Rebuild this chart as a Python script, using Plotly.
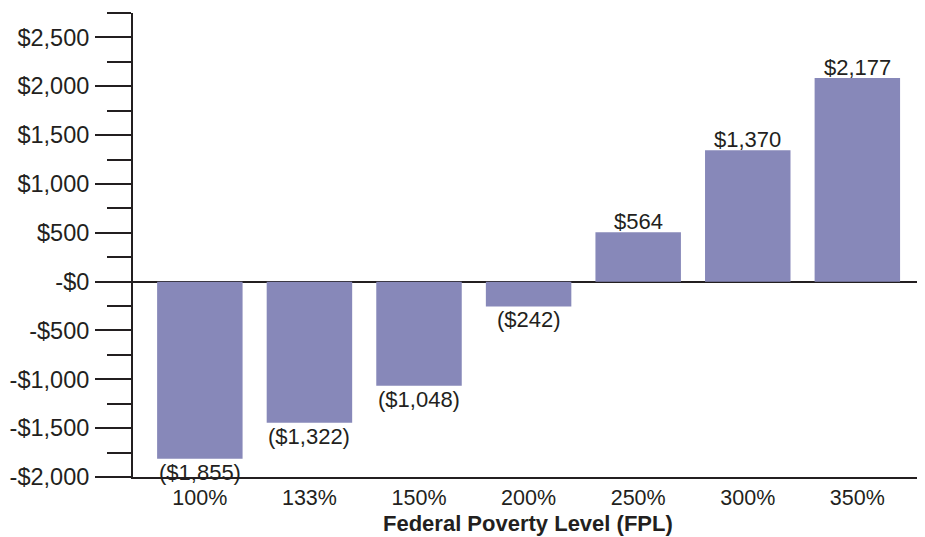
import plotly.graph_objects as go

categories = ["100%", "133%", "150%", "200%", "250%", "300%", "350%"]
bar_values = [-1814, -1444, -1065, -254, 506, 1345, 2084]
bar_labels = ["($1,855)", "($1,322)", "($1,048)", "($242)", "$564", "$1,370", "$2,177"]
y_tick_vals = [-2000, -1500, -1000, -500, 0, 500, 1000, 1500, 2000, 2500]
y_tick_text = ["-$2,000", "-$1,500", "-$1,000", "-$500", "-$0", "$500",
               "$1,000", "$1,500", "$2,000", "$2,500"]
x_title = "Federal Poverty Level (FPL)"

ink = "#231f20"
font_family = "Liberation Sans, Arial, sans-serif"

fig = go.Figure(go.Bar(
    x=categories,
    y=bar_values,
    marker=dict(color="#8788b9", line=dict(width=0)),
    width=0.78,
    cliponaxis=False,
))

# value labels just beyond the end of each bar
for cat, val, lab in zip(categories, bar_values, bar_labels):
    pos = val >= 0
    fig.add_annotation(
        x=cat, y=val, text=lab, showarrow=False,
        xanchor="center", yanchor="bottom" if pos else "top",
        yshift=-4 if pos else 1,
        font=dict(size=22, color=ink, family=font_family),
    )

# page body has an 8px default margin, so the figure is sized/offset for it
fig.update_layout(
    width=917, height=529,
    margin=dict(l=125, r=3, t=5, b=60),
    plot_bgcolor="white", paper_bgcolor="white",
    showlegend=False,
    font=dict(family=font_family, color=ink),
)

fig.update_xaxes(
    range=[-0.61, 6.59],
    automargin=False,
    showline=True, linecolor=ink, linewidth=2,
    ticks="", showgrid=False, zeroline=False,
    tickfont=dict(size=21.5, color=ink),
    ticklabelstandoff=0,
)

fig.add_annotation(
    text="<b>" + x_title + "</b>",
    xref="paper", yref="paper", x=0.5, y=-0.101,
    xanchor="center", yanchor="middle", showarrow=False,
    font=dict(size=22, color=ink, family=font_family),
)

fig.update_yaxes(
    range=[-2000, 2750],
    automargin=False,
    tickmode="array", tickvals=y_tick_vals, ticktext=y_tick_text,
    ticks="outside", ticklen=36, tickwidth=2, tickcolor=ink,
    minor=dict(dtick=250, tick0=0, ticks="outside", ticklen=24,
               tickwidth=2, tickcolor=ink, showgrid=False),
    showline=True, linecolor=ink, linewidth=2,
    showgrid=False,
    zeroline=True, zerolinecolor=ink, zerolinewidth=2,
    tickfont=dict(size=23.5, color=ink),
    ticklabelstandoff=1,
)

fig.write_html("out.html")
